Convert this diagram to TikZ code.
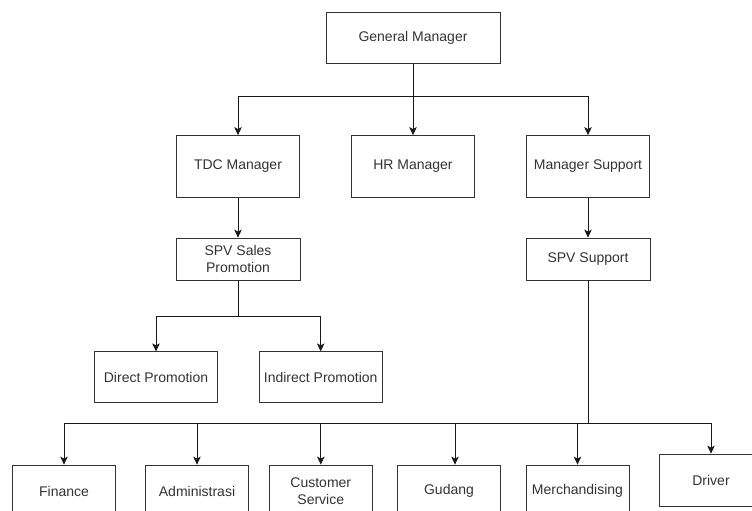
\documentclass[tikz,border=0pt]{standalone}
\usepackage{fontspec}
\setmainfont{Liberation Sans}
\usetikzlibrary{arrows.meta}

\begin{document}
\begin{tikzpicture}[x=1pt,y=-1pt,font=\fontsize{14}{17.6}\selectfont,
  box/.style={draw=black!80,text=black!80,align=center,inner sep=0pt,line width=0.8pt},
  arr/.style={-{Stealth[length=8pt,width=7.5pt,inset=2pt]},line width=0.8pt,draw=black!90}]
\useasboundingbox (0,0) rectangle (752,511);
\clip (0,0) rectangle (752,511);
% top levels
\node[box,minimum width=174,minimum height=51] (gm) at (413,38) {General Manager};
\node[box,minimum width=123,minimum height=62] (tdc) at (238,166.5) {TDC Manager};
\node[box,minimum width=123,minimum height=62] (hr) at (413,166.5) {HR Manager};
\node[box,minimum width=123,minimum height=62] (ms) at (588,166.5) {Manager Support};
\node[box,minimum width=124,minimum height=42] (spvsales) at (238,259) {SPV Sales\\Promotion};
\node[box,minimum width=124,minimum height=42] (spvsup) at (588,259) {SPV Support};
\node[box,minimum width=123,minimum height=51] (direct) at (156,377.3) {Direct Promotion};
\node[box,minimum width=123,minimum height=51] (indirect) at (320.7,377.3) {Indirect Promotion};
% bottom row
\node[box,minimum width=103,minimum height=52] (finance) at (64,491) {Finance};
\node[box,minimum width=103,minimum height=52] (admin) at (197,491) {Administrasi};
\node[box,minimum width=103,minimum height=52] (cs) at (320.8,491) {Customer\\Service};
\node[box,minimum width=103,minimum height=52] (gudang) at (449,491) {Gudang};
\node[box,minimum width=103,minimum height=52] (merch) at (577.5,491) {Merchandising};
\node[box,minimum width=103,minimum height=52] (driver) at (711,480) {Driver};
% connectors
\draw[arr] (gm.south) -- ++(0,32) -| (tdc.north);
\draw[arr] (gm.south) -- ++(0,32) -| (ms.north);
\draw[arr] (gm.south) -- (hr.north);
\draw[arr] (tdc.south) -- (spvsales.north);
\draw[arr] (ms.south) -- (spvsup.north);
\draw[arr] (spvsales.south) -- ++(0,36) -| (direct.north);
\draw[arr] (spvsales.south) -- ++(0,36) -| (indirect.north);
\foreach \n in {finance,admin,cs,merch,driver}
  \draw[arr] (spvsup.south) -- ++(0,143) -| (\n.north);
\draw[arr] (spvsup.south) -- ++(0,143) -| ([xshift=6]gudang.north);
\end{tikzpicture}
\end{document}
